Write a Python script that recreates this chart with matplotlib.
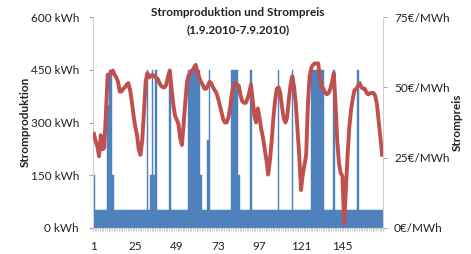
import matplotlib
matplotlib.use("Agg")
import matplotlib.pyplot as plt
import matplotlib.ticker as ticker
import numpy as np

plt.rcParams['font.family'] = ['Lato', 'DejaVu Sans']

# hourly production in kWh, one row per day (1.9.2010 - 7.9.2010)
production = [
    150, 50, 50, 50, 50, 50, 50, 50, 350, 450, 450, 150, 50, 50, 50, 50, 50, 50, 50, 50, 50, 50, 50, 50,
    50, 50, 50, 50, 50, 50, 50, 450, 50, 150, 450, 150, 450, 50, 50, 50, 50, 50, 50, 50, 450, 50, 50, 50,
    50, 50, 50, 50, 50, 50, 50, 450, 450, 450, 450, 450, 450, 450, 150, 50, 50, 50, 250, 450, 50, 50, 50, 50,
    50, 50, 50, 50, 50, 50, 50, 50, 450, 450, 450, 450, 150, 50, 50, 50, 50, 50, 50, 450, 50, 50, 50, 50,
    50, 50, 50, 50, 50, 50, 50, 50, 50, 50, 50, 450, 50, 50, 50, 50, 50, 50, 50, 450, 50, 50, 50, 50,
    50, 50, 50, 50, 50, 50, 450, 450, 450, 450, 450, 450, 450, 450, 50, 50, 50, 50, 50, 450, 50, 50, 50, 50,
    50, 50, 50, 50, 50, 50, 50, 50, 50, 450, 50, 50, 50, 50, 50, 50, 50, 50, 50, 50, 50, 50, 50, 50,
]

# hourly price in EUR/MWh
price = [
    33.5, 31, 29, 25.5, 33, 28, 28.5, 41, 54.5, 54.5, 55, 56, 54.5, 53.5, 52, 48.5, 48.5, 49.5, 50, 51, 51.5, 49, 45, 40,
    36, 33, 28, 26, 31, 41, 52, 55, 53.5, 54, 54.5, 54, 53.5, 53, 51.5, 50.5, 50, 50, 51, 54, 56, 49.5, 44, 40,
    38.5, 37, 32, 29.5, 37, 45, 52, 54.5, 55, 56, 57, 58, 55.5, 53.5, 52, 51, 49.5, 49.5, 50.5, 52, 51.5, 50, 49, 48,
    46, 43.5, 41, 38.5, 37.5, 37.5, 39.5, 43, 48, 51, 51.5, 51, 50.5, 47, 45, 44.5, 44.5, 46, 48, 51, 45.5, 40, 37.5, 42.5,
    39, 35, 32, 28, 24, 19, 24, 31, 39, 45.5, 49.5, 50, 48, 43, 39, 37.5, 39.5, 46, 51, 54, 50, 44, 35, 25.5,
    13.5, 19, 22.5, 26, 44, 54, 57, 58, 58.5, 58.5, 58.5, 53, 50.5, 49.5, 48, 47.5, 48, 49.5, 52, 55, 44, 31, 23, 19.5,
    18.5, 1.5, 14, 26, 36, 42, 46, 49, 49.5, 50.5, 51.5, 50, 49.5, 49.5, 48, 47.5, 48, 48, 48, 47, 44, 38, 32, 26,
]

hours = np.arange(1, len(production) + 1)
xtick_labels = [1, 25, 49, 73, 97, 121, 145]
kwh_ticks = [0, 150, 300, 450, 600]
eur_ticks = [0, 25, 50, 75]

blue = '#4F81BD'
red = '#C0504D'
grey = '#A6A6A6'
txt = '#222222'

fig = plt.figure(figsize=(4.71, 2.54), dpi=100)
ax = fig.add_axes([93 / 471, 1 - 228 / 254, 290 / 471, 211 / 254])
ax.bar(hours, production, width=1.0, color=blue, edgecolor=blue, linewidth=0.3)
ax.set_xlim(0.5, len(hours) + 0.5)
ax.set_ylim(0, 600)
ax.set_yticks(kwh_ticks)
ax.yaxis.set_major_formatter(ticker.FuncFormatter(lambda v, _: f'{int(v)} kWh'))
ax.set_xticks(xtick_labels)
ax.set_xticklabels([str(t) for t in xtick_labels])
ax.xaxis.set_minor_locator(ticker.FixedLocator(np.arange(0.5, len(hours) + 1, 1)))
ax.tick_params(axis='x', which='major', length=0, pad=9, labelsize=8.5, colors=txt)
ax.tick_params(axis='x', which='minor', length=2.5, width=0.4, color=grey)
ax.tick_params(axis='y', length=3, width=0.8, color=grey, pad=7, labelsize=8.5, labelcolor=txt)
for s in ['top', 'right']:
    ax.spines[s].set_visible(False)
for s in ['left', 'bottom']:
    ax.spines[s].set_color('#D0D0D0')

ax2 = ax.twinx()
ax2.plot(hours, price, color=red, linewidth=2.8, solid_joinstyle='round')
ax2.set_ylim(0, 75)
ax2.set_yticks(eur_ticks)
ax2.yaxis.set_major_formatter(ticker.FuncFormatter(lambda v, _: f'{int(v)}€/MWh'))
ax2.tick_params(axis='y', length=3, width=0.8, color=grey, pad=5, labelsize=8.5, labelcolor=txt)
for s in ['top', 'left', 'bottom']:
    ax2.spines[s].set_visible(False)
ax2.spines['right'].set_color('#D0D0D0')

# axis titles placed like the Excel original
fig.text(25 / 471, 1 - 122 / 254, 'Stromproduktion', rotation=90, ha='center', va='center',
         fontsize=8.5, fontweight='bold', color=txt)
fig.text(457 / 471, 1 - 122 / 254, 'Strompreis', rotation=90, ha='center', va='center',
         fontsize=8.5, fontweight='bold', color=txt)

fig.text(238 / 471, 1 - 12 / 254, 'Stromproduktion und Strompreis', ha='center', va='center',
         fontsize=8.5, fontweight='bold', color=txt)
fig.text(238 / 471, 1 - 30 / 254, '(1.9.2010-7.9.2010)', ha='center', va='center',
         fontsize=8.5, fontweight='bold', color=txt)

fig.savefig('out.png', dpi=100)
